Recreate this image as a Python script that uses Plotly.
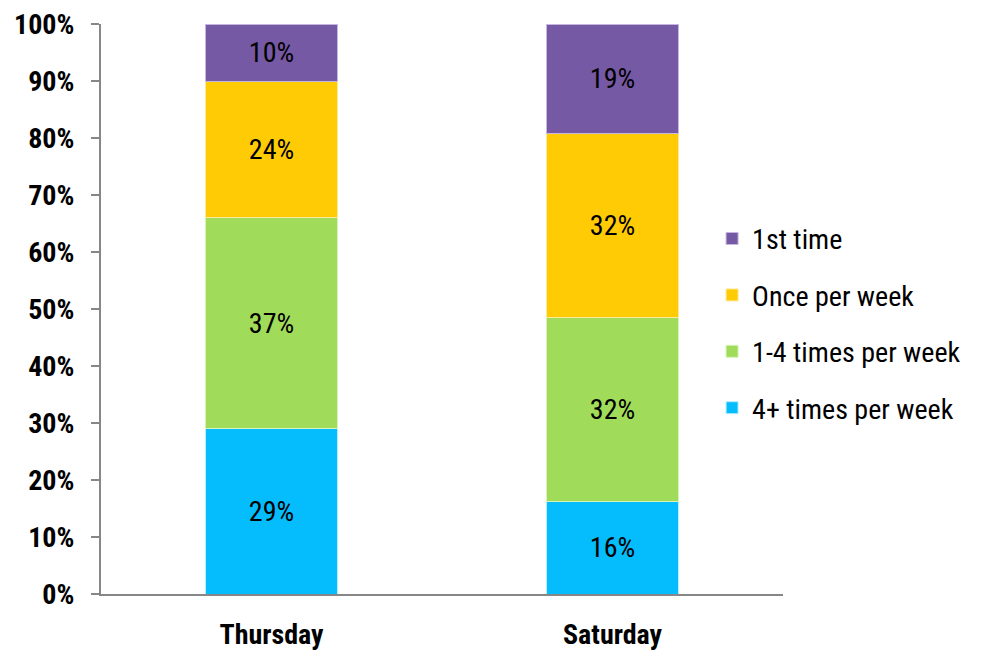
import plotly.graph_objects as go

days = ["Thursday", "Saturday"]
series_names = ["4+ times per week", "1-4 times per week", "Once per week", "1st time"]
four_plus = [29, 16]
one_to_four = [37, 32]
once_week = [24, 32]
first_time = [10, 19]
colors = ["#05BCFC", "#A0DC5A", "#FFCB05", "#7659A4"]
edge_colors = ["#B8EEFF", "#D8F2B8", "#FFE99A", "#C7B6DD"]
y_ticks = list(range(0, 101, 10))

FONT = "Liberation Sans Narrow, Arial Narrow, Roboto Condensed, sans-serif"

fig = go.Figure()
series = [four_plus, one_to_four, once_week, first_time]
for i, (name, vals, col, edge) in enumerate(zip(series_names, series, colors, edge_colors)):
    fig.add_trace(go.Bar(
        x=days, y=vals, name=name, legendgroup=name,
        legendrank=len(series_names) - i,
        marker=dict(color=col, line=dict(color=edge, width=1)),
        text=[f"{v}%" for v in vals], textposition="inside",
        insidetextanchor="middle", textangle=0,
        textfont=dict(family=FONT, size=28, color="black"),
    ))

fig.update_layout(
    barmode="stack", barnorm="percent", bargap=0.615,
    width=983, height=651,
    margin=dict(l=101, r=200, t=24, b=57, autoexpand=False),
    paper_bgcolor="white", plot_bgcolor="white",
    font=dict(family=FONT, color="black"),
    legend=dict(
        x=0.896, y=0.667, xanchor="left", yanchor="top",
        traceorder="grouped", tracegroupgap=17,
        font=dict(family=FONT, size=28, color="black"),
        itemwidth=30, bgcolor="rgba(0,0,0,0)",
    ),
    xaxis=dict(
        showline=True, linecolor="#878787", linewidth=2,
        ticks="", ticklabelstandoff=14,
        tickfont=dict(family=FONT, size=28, color="black", weight="bold"),
        showgrid=False,
    ),
    yaxis=dict(
        range=[0, 100], tickvals=y_ticks, ticktext=[f"{t}%" for t in y_ticks],
        showline=True, linecolor="#878787", linewidth=2,
        ticks="outside", ticklen=8, tickcolor="#878787", tickwidth=2,
        ticklabelstandoff=11,
        tickfont=dict(family=FONT, size=28, color="black", weight="bold"),
        showgrid=False, zeroline=False,
    ),
)

fig.write_html("out.html")
